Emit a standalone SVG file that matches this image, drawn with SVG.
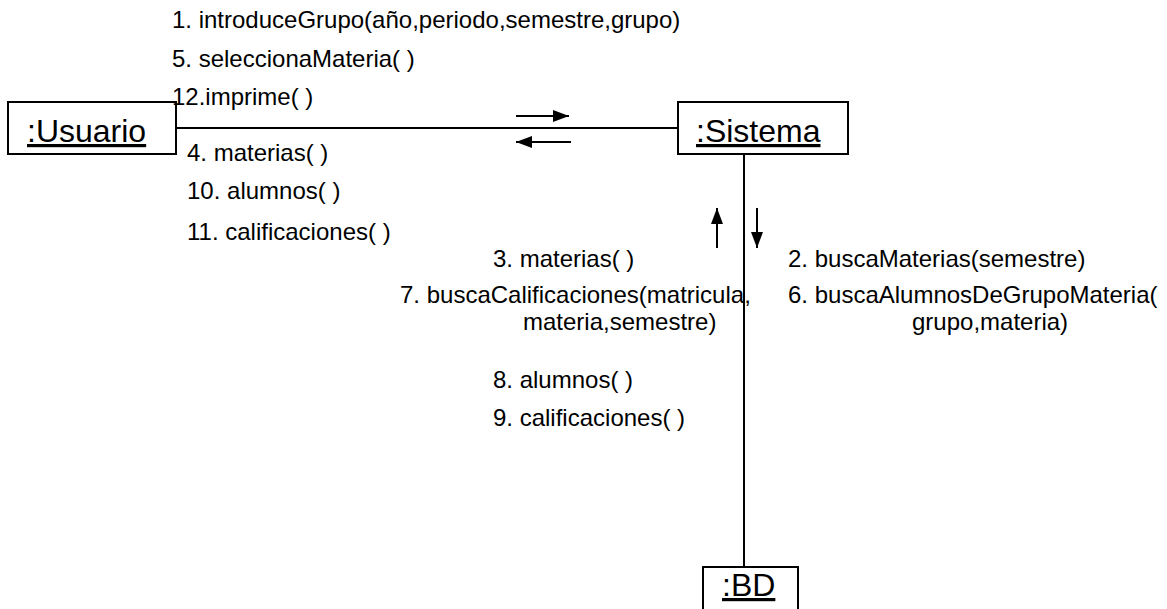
<svg xmlns="http://www.w3.org/2000/svg" width="1167" height="609" viewBox="0 0 1167 609">
  <style>
    .obj { fill: #ffffff; stroke: #000000; stroke-width: 2; }
    .objname { font-family: "Liberation Sans", Arial, sans-serif; font-size: 32px; fill: #000000; text-decoration: underline; }
    .msg { font-family: "Liberation Sans", Arial, sans-serif; font-size: 24px; fill: #000000; }
    .link { stroke: #000000; stroke-width: 2; fill: none; }
    .dir { stroke: #000000; stroke-width: 2; fill: none; marker-end: url(#head); }
  </style>
  <defs>
    <marker id="head" viewBox="0 0 16 12" refX="16" refY="6" markerWidth="16" markerHeight="12" markerUnits="userSpaceOnUse" orient="auto">
      <path d="M0,0 L16,6 L0,12 Z" fill="#000000"/>
    </marker>
  </defs>
  <rect width="1167" height="609" fill="#ffffff"/>

  <!-- links between objects and message direction arrows -->
  <g id="connectors">
    <line class="link" x1="176" y1="128" x2="678" y2="128"/>
    <line class="link" x1="744" y1="154" x2="744" y2="567"/>
    <line class="dir" x1="516" y1="116" x2="569" y2="116"/>
    <line class="dir" x1="571" y1="142" x2="516" y2="142"/>
    <line class="dir" x1="717" y1="248" x2="717" y2="208"/>
    <line class="dir" x1="757" y1="208" x2="757" y2="248"/>
  </g>

  <g id="usuario">
    <rect class="obj" x="8" y="102" width="168" height="52"/>
    <text class="objname" x="27" y="142">:Usuario</text>
  </g>

  <g id="sistema">
    <rect class="obj" x="678" y="102" width="170" height="52"/>
    <text class="objname" x="696" y="142">:Sistema</text>
  </g>

  <g id="bd">
    <rect class="obj" x="703" y="567" width="95" height="60"/>
    <text class="objname" x="722" y="596">:BD</text>
  </g>

  <!-- messages Usuario -> Sistema -->
  <g id="msgs-usuario-sistema">
    <text class="msg" x="172" y="28">1. introduceGrupo(año,periodo,semestre,grupo)</text>
    <text class="msg" x="172" y="67">5. seleccionaMateria( )</text>
    <text class="msg" x="172" y="105">12.imprime( )</text>
  </g>

  <!-- messages Sistema -> Usuario -->
  <g id="msgs-sistema-usuario">
    <text class="msg" x="187" y="161">4. materias( )</text>
    <text class="msg" x="187" y="199">10. alumnos( )</text>
    <text class="msg" x="187" y="240">11. calificaciones( )</text>
  </g>

  <!-- messages BD -> Sistema -->
  <g id="msgs-bd-sistema">
    <text class="msg" x="493" y="267">3. materias( )</text>
    <text class="msg" x="400" y="303">7. buscaCalificaciones(matricula,</text>
    <text class="msg" x="523" y="330">materia,semestre)</text>
    <text class="msg" x="493" y="388">8. alumnos( )</text>
    <text class="msg" x="493" y="426">9. calificaciones( )</text>
  </g>

  <!-- messages Sistema -> BD -->
  <g id="msgs-sistema-bd">
    <text class="msg" x="788" y="267">2. buscaMaterias(semestre)</text>
    <text class="msg" x="788" y="303">6. buscaAlumnosDeGrupoMateria(</text>
    <text class="msg" x="912" y="330">grupo,materia)</text>
  </g>
</svg>
